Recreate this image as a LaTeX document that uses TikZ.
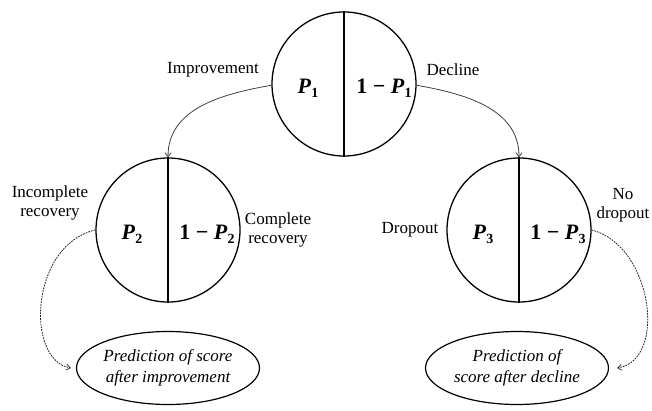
\documentclass[tikz,border=0pt]{standalone}
\usepackage{fontspec}
\setmainfont{Liberation Serif}
\usetikzlibrary{shapes.geometric,arrows.meta}
\newcommand{\PP}[1]{\textbf{\textit{P}}\raisebox{-0.4ex}{\fontsize{14}{14}\selectfont\bfseries #1}}
\begin{document}
\begin{tikzpicture}[x=1pt,y=1pt,
  prob/.style={circle,draw,line width=1.3pt,minimum size=144pt,inner sep=0pt},
  pred/.style={ellipse,draw,line width=1.2pt,minimum width=183pt,minimum height=73pt,inner sep=0pt,
    align=center,font=\fontsize{17}{21}\selectfont\itshape},
  lbl/.style={align=center,font=\fontsize{17}{19.5}\selectfont},
  ptxt/.style={font=\fontsize{22}{24}\selectfont},
  branch/.style={line width=0.8pt,draw=black!75,-{Straight Barb[length=4pt,width=6pt]}},
  dotarrow/.style={line width=0.8pt,draw=black!85,dash pattern=on 1.8pt off 1pt,
    -{Straight Barb[length=4pt,width=6pt,line width=0.7pt]}}]
\useasboundingbox (0,0) rectangle (652,410);
\fill[white] (0,0) rectangle (652,410);
% circles
\node[prob] (c1) at (344,326) {};
\node[prob] (c2) at (168,180) {};
\node[prob] (c3) at (519,180) {};
\draw[line width=1.3pt] (c1.north) -- (c1.south);
\draw[line width=1.3pt] (c2.north) -- (c2.south);
\draw[line width=1.3pt] (c3.north) -- (c3.south);
\node[ptxt] (p1) at (308,322) {\PP{1}};
\node[ptxt] (q1) at (384,322) {\textbf{1 − }\PP{1}};
\node[ptxt] (p2) at (132,176) {\PP{2}};
\node[ptxt] (q2) at (207,176) {\textbf{1 − }\PP{2}};
\node[ptxt] (p3) at (483,176) {\PP{3}};
\node[ptxt] (q3) at (558,176) {\textbf{1 − }\PP{3}};
% prediction ellipses
\node[pred] (e1) at (168,42) {Prediction of score\\after improvement};
\node[pred] (e2) at (517,42) {Prediction of\\score after decline};
% labels
\node[lbl] (limp) at (213,340) {Improvement};
\node[lbl] (ldec) at (453,340) {Decline};
\node[lbl] (linc) at (50,207) {Incomplete\\recovery};
\node[lbl] (lcom) at (278,180) {Complete\\recovery};
\node[lbl] (ldro) at (410,180) {Dropout};
\node[lbl] (lnod) at (623,205) {No\\dropout};
% branches
\draw[branch] (c1.181) to[out=190,in=90] (c2.north);
\draw[branch] (c1.-1) to[out=-10,in=90] (c3.north);
% dotted arrows
\draw[dotarrow] (c2.west) .. controls (30,165) and (25,50) .. ([xshift=-5pt]e1.west);
\draw[dotarrow] (c3.east) .. controls (652,165) and (668,50) .. ([xshift=8pt]e2.east);
\end{tikzpicture}
\end{document}
